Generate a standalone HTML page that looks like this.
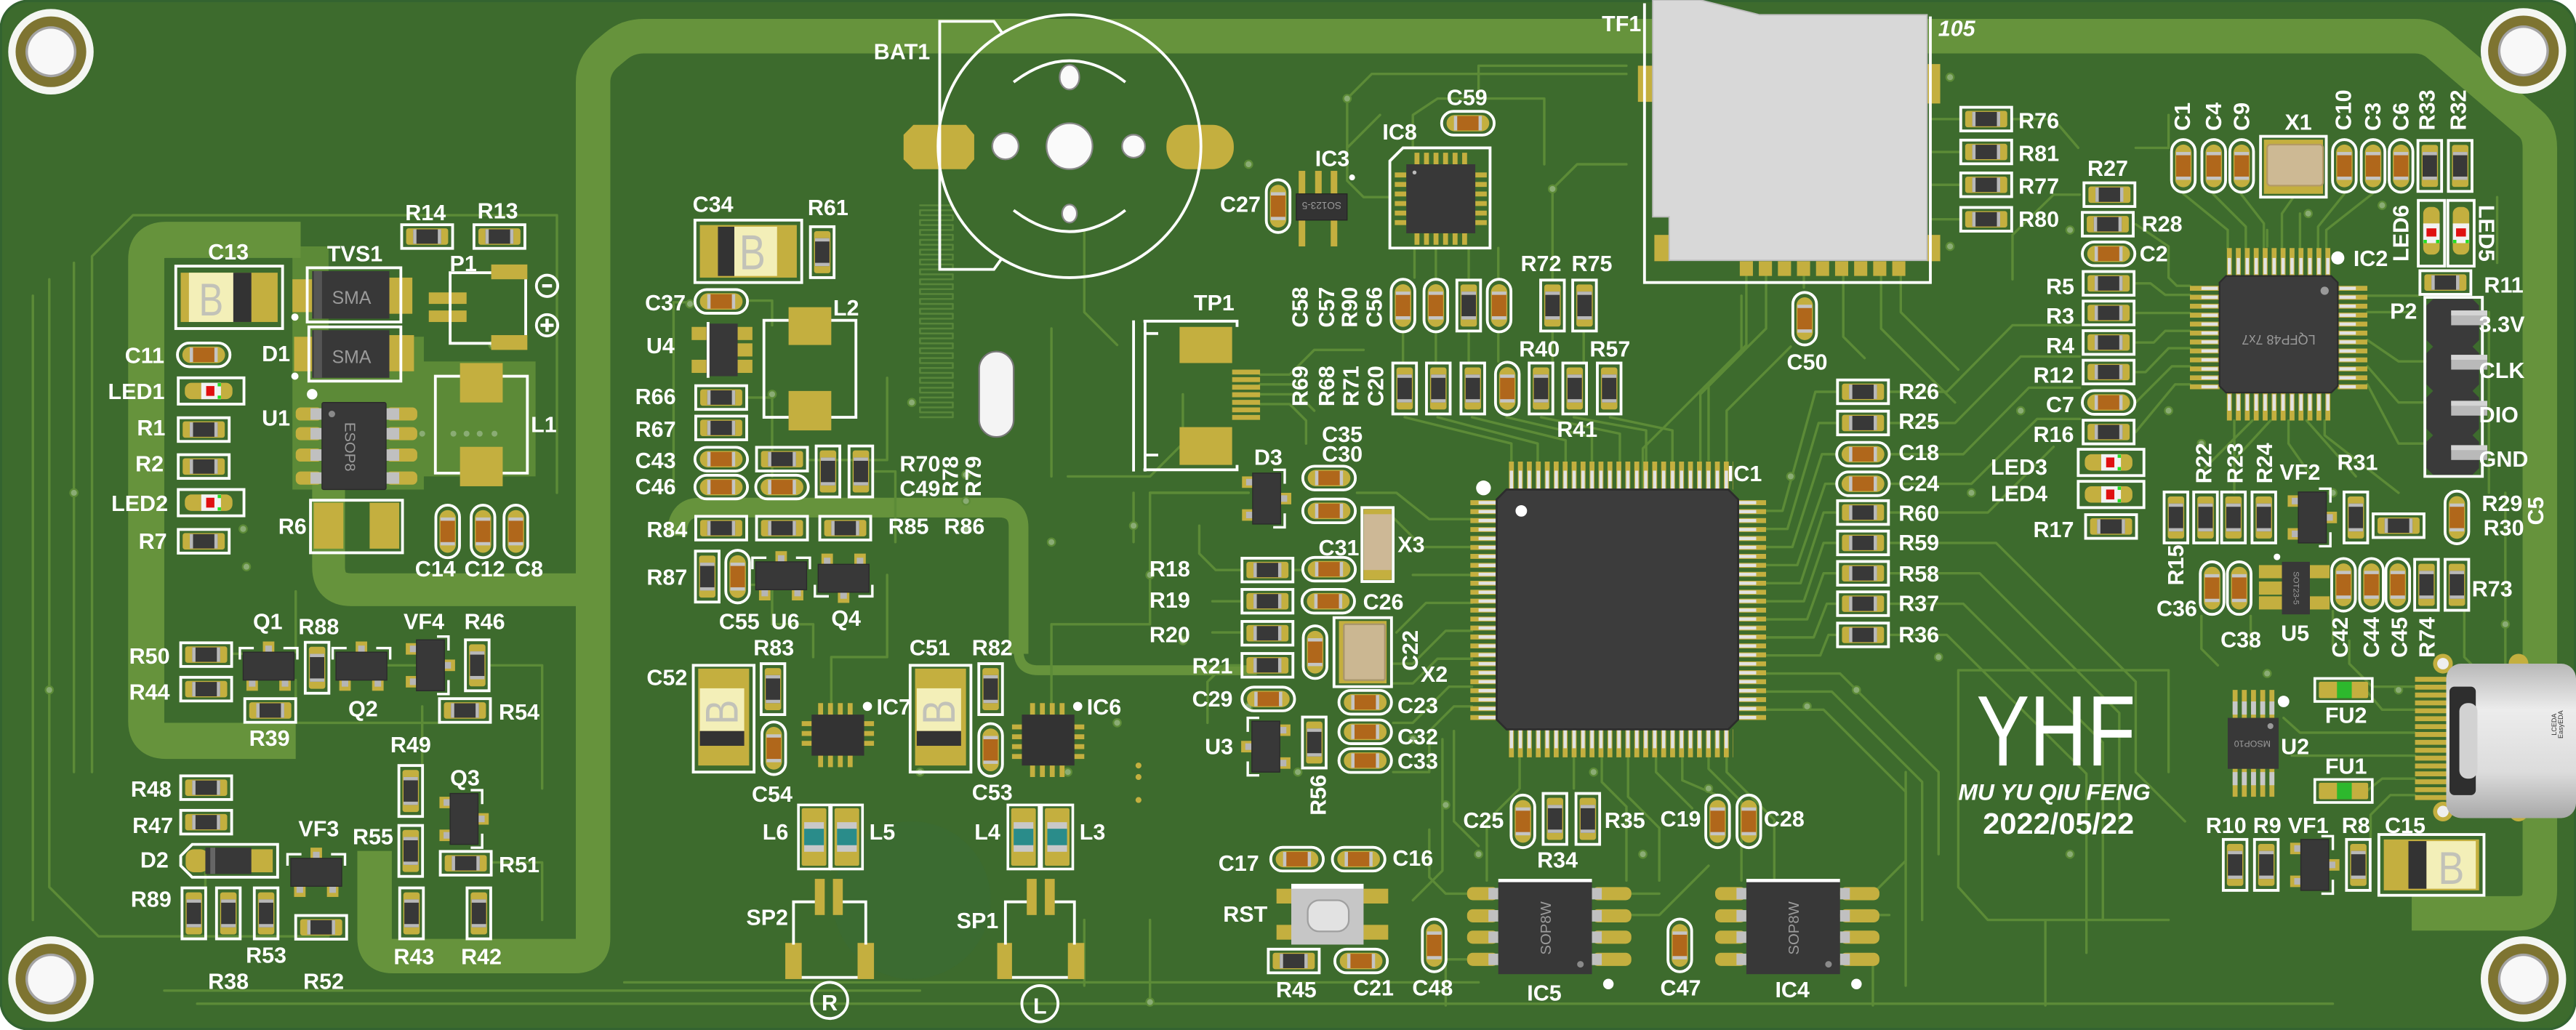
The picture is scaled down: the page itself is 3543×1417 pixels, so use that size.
<!DOCTYPE html>
<html><head><meta charset="utf-8">
<style>
html,body{margin:0;padding:0;background:#fff;}
svg{display:block;}
.t{font-family:"Liberation Sans",Arial,sans-serif;font-weight:bold;font-size:13.5px;fill:#fff;text-anchor:middle;}
.s{font-family:"Liberation Sans",Arial,sans-serif;fill:#9a9a9a;text-anchor:middle;}
.tr{fill:none;stroke:#5c8b37;stroke-width:1.5;stroke-linejoin:round;stroke-linecap:round;}
.bd{fill:none;stroke:#66933c;stroke-linejoin:round;}
.vi{fill:#8aac74;stroke:#5c8b37;stroke-width:1;}
.sk{fill:none;stroke:#fff;stroke-width:1.7;}
.g{fill:#c4af3f;}
.dk{fill:#3a3a3a;}
</style></head>
<body>
<svg width="3543" height="1417" viewBox="0 0 1568 627" preserveAspectRatio="none" xmlns="http://www.w3.org/2000/svg">
<defs>
<linearGradient id="usb" x1="0" y1="0" x2="0" y2="1">
<stop offset="0" stop-color="#b8b8b8"/><stop offset="0.3" stop-color="#ececec"/><stop offset="0.7" stop-color="#dcdcdc"/><stop offset="1" stop-color="#a8a8a8"/>
</linearGradient>
<g id="rh">
<rect x="-15.5" y="-7.2" width="31" height="14.4" fill="none" stroke="#fff" stroke-width="1.7"/>
<rect x="-12.8" y="-5" width="25.6" height="10" rx="1.5" fill="#c4af3f"/>
<rect x="-8.5" y="-4.4" width="17" height="8.8" fill="#383838"/>
<rect x="-8.5" y="-4.4" width="2" height="8.8" fill="#b8b8b8"/>
<rect x="6.5" y="-4.4" width="2" height="8.8" fill="#b8b8b8"/>
</g>
<g id="ch">
<rect x="-16" y="-7.2" width="32" height="14.4" rx="7.2" fill="none" stroke="#fff" stroke-width="1.7"/>
<rect x="-13" y="-5" width="26" height="10" rx="5" fill="#c4af3f"/>
<rect x="-7.5" y="-4.4" width="15" height="8.8" fill="#b0671b"/>
<rect x="-8.5" y="-4.4" width="2" height="8.8" fill="#c4c4c4"/>
<rect x="6.5" y="-4.4" width="2" height="8.8" fill="#c4c4c4"/>
</g>
<g id="led">
<rect x="-20" y="-8" width="40" height="16" fill="none" stroke="#fff" stroke-width="1.7"/>
<rect x="-16" y="-5" width="29" height="10" rx="4" fill="#c4af3f"/>
<rect x="-6" y="-5" width="12" height="10" fill="#f2f2f2"/>
<rect x="-3" y="-3" width="5" height="6" fill="#e01010"/>
<rect x="4" y="-4.8" width="2" height="2" fill="#22e022"/>
<rect x="4" y="2.8" width="2" height="2" fill="#22e022"/>
</g>
<g id="sot">
<rect x="-3.5" y="-15" width="7" height="8" fill="#c4af3f"/>
<rect x="-2" y="-12.5" width="4" height="5" fill="#b5b5b5"/>
<rect x="-13.5" y="7" width="7" height="8" fill="#c4af3f"/>
<rect x="6.5" y="7" width="7" height="8" fill="#c4af3f"/>
<rect x="-12" y="7.5" width="4" height="5" fill="#b5b5b5"/>
<rect x="8" y="7.5" width="4" height="5" fill="#b5b5b5"/>
<rect x="-15.5" y="-8.5" width="31" height="17" fill="#383838" stroke="#2a2a2a" stroke-width=".6"/>
<path d="M-17.5,-4 V-11 H-9 M9,-11 H17.5 V-4" stroke="#fff" stroke-width="1.5" fill="none"/>
</g>
<g id="lind">
<rect x="-9.5" y="-19.5" width="19" height="39" fill="none" stroke="#fff" stroke-width="1.6"/>
<rect x="-7.5" y="-17.5" width="15" height="35" rx="1" fill="#c4af3f"/>
<rect x="-6" y="-9" width="12" height="18" fill="#c8c8c8"/>
<rect x="-6" y="-5" width="12" height="10" fill="#2a8c8a"/>
</g>
<g id="fu">
<rect x="-17.5" y="-7" width="35" height="14" fill="none" stroke="#fff" stroke-width="1.6"/>
<rect x="-15" y="-5" width="30" height="10" rx="1" fill="#c4af3f"/>
<rect x="-4" y="-5" width="9" height="10" fill="#2db82d"/>
</g>
<g id="hole">
<circle r="26" fill="#f4f6f2"/>
<circle r="21.5" fill="#7e7431"/>
<circle r="15.5" fill="#a4a4a4"/>
<circle r="14" fill="#f8f8f8"/>
</g>
</defs>

<!-- board -->
<rect x="0.5" y="0.5" width="1567" height="626" rx="17" fill="#3d6b2d" stroke="#336330" stroke-width="1.5"/>
<circle cx="555" cy="548" r="48" fill="#3b6b31"/>

<!-- light pours / bands -->
<path d="M178,150 H200 V205 H258 V220 H326 V290 H258 V298 H178 Z" fill="#5c8a37"/>
<path class="bd" stroke-width="22" d="M183,146 H101 Q89,146 89,158 V439 Q89,451 101,451 H180"/>
<path class="bd" stroke-width="20" d="M200,292 V345 Q200,359 214,359 H352"/>
<path class="bd" stroke-width="21" d="M228,518 V571 Q228,582 239,582 H350 Q361,582 361,571 V50 Q361,40 369,33 L375,28 Q382,22 392,22 H1470 Q1478,22 1484,27 L1540,75 Q1546,80 1546,90 V542 Q1546,556 1532,556 H1468"/>
<path class="bd" stroke-width="12" d="M412,326 Q412,309 426,309 H608 Q620,309 620,321 V398"/>
<path class="bd" stroke-width="6" d="M620,396 Q620,408 632,408 H765"/>
<path class="tr" d="M56,470 V156 L81,131 H339 V300"/>
<path class="tr" d="M100,603 H560 M120,611 H1420 M20,180 V560"/>

<!-- meander -->
<path class="tr" style="stroke-width:1.1;stroke:#58863a" d="M560,125 h20 v3 h-20 v3 h20 v3 h-20 v3 h20 v3 h-20 v3 h20 v3 h-20 v3 h20 v3 h-20 v3 h20 v3 h-20 v3 h20 v3 h-20 v3 h20 v3 h-20 v3 h20 v3 h-20 v3 h20 v3 h-20 v3 h20 v3 h-20 v3 h20 v3 h-20 v3 h20 v3 h-20 v3 h20 v3 h-20 v3 h20 v3 h-20 v3 h20 v3 h-20 v3 h20 v3 h-20 v3 h20 v3 h-20 v3 h20 v3 h-20 v3 h20 v3 h-20 v3 h20 v3 h-20 v3 h20 v3 h-20"/>

<!-- traces -->
<g class="tr">
<path d="M180,414 V440 H268 M236,405 H253 M298,405 H330 V480 M299,525 H330 V560 M257,465 V430 M125,545 V520 M180,360 V397 M142,398 H148"/>
<path d="M455,183 H470 V198 M455,242 H470 V290 M492,280 H540 V230 M531,287 H545 V330 M420,184 H410 V300 M456,356 H470 V380 H495 V400 M506,428 V400 H540 V350 M640,428 V380 H700 V300 H760"/>
<path d="M767,228 H785 L800,213 H830 M767,234 H792 M767,240 H790 L800,250 M767,246 H785 L795,256 V270"/>
<path d="M756,347 H740 L730,337 V320 M756,366 H738 M756,385 H738 M756,405 H745 L735,415 V440 M787,347 H793"/>
<path d="M920,281 V270 L855,254 M936,281 V270 L875,254 M953,281 V268 L896,254 M969,281 V266 L917,254 M986,281 V264 L938,254 M1002,281 V262 L958,254 M1018,281 V262 L980,254 M1035,281 V240 L1060,215 V180 M1051,281 V250 L1090,211"/>
<path d="M1075,311 H1085 L1105,238.5 H1118 M1075,322 H1088 L1107,257.5 H1118 M1075,333 H1091 L1109,276.5 H1118 M1075,344 H1094 L1111,294.5 H1118 M1075,355 H1096 L1110,312 H1118 M1075,366 H1098 L1110,330.5 H1118 M1075,377 H1100 L1110,349 H1118 M1075,388 H1104 L1112,367.5 H1118 M1075,399 H1108 L1113,386.5 H1118"/>
<path d="M1075,410 H1120 L1180,470 V520 M1075,421 H1115 L1170,476 V560 M1075,432 H1110 L1160,482 V600"/>
<path d="M1150,238.5 H1185 L1225,198 H1266 M1150,257.5 H1190 L1230,217 H1266 M1150,276.5 H1195 L1235,236 H1266 M1150,294.5 H1200 L1240,255 H1266 M1150,312 H1210 L1250,272 M1150,330.5 H1215 L1300,415 V470 L1330,500 M1150,349 H1205 L1290,434 V500 M1150,367.5 H1195 L1280,452 V560 M1150,386.5 H1185 L1270,471 V580"/>
<path d="M896,316 H870 L850,300 H826 M896,333 H866 L848,315 M896,350 H860 M896,367 H868 L850,385 M896,384 H880 L860,404 H848 M896,401 H875 L860,416 H848 M896,418 H882 L860,440 H848 M896,430 H885 L870,445 V470 H848 M885,445 V500 L900,515 M878,450 V530 L860,548"/>
<path d="M925,461 V480 L905,500 V536 M958,461 V480 M975,461 V476 L990,491 V536 M991,461 V485 L1010,504 V536 M1008,461 V470 L1030,492 M1024,461 V475 L1045,484 M1040,461 V468 L1060,488 V536 M1051,461 V470 L1080,499 V536"/>
<path d="M993,544 H1010 M993,557 H1010 L1040,527 M894,544 H880 L870,534 V505 M894,584 H880 V612 M1120,544 H1140 L1160,524 V470 M1120,557 H1150 M1120,584 H1140 V612"/>
<path d="M1333,179.5 H1318 L1309,172.5 H1300 M1333,190.5 H1300 M1333,201.4 H1318 L1311,208.5 H1300 M1333,212 H1320 L1306,226.5 H1300 M1333,223 H1322 L1300,245 M1333,234 H1324 L1300,263 M1333,174 H1325 L1320,169 V150 L1300,136.5"/>
<path d="M1356,151 V140 L1329,118 M1367,151 V138 L1347,118 M1378,151 V136 L1364,118 M1389,151 V130 L1396,120 M1400,151 V130 M1411,151 V138 L1427,118 M1416,151 V140 L1444,118"/>
<path d="M1441,180 H1473 M1441,190 H1470 M1441,207 L1460,220 H1477 M1441,223 L1460,245 H1477 M1441,234 L1460,270 H1477"/>
<path d="M1360,256 V300 M1371,256 L1342,285 M1382,256 L1360,280 M1393,256 V270 L1407,290 M1404,256 L1434,290 M1415,256 V265 L1460,300"/>
<path d="M1470,418 H1444 L1430,404 V390 M1470,432 H1450 L1440,420 M1470,446 H1400 L1390,437 M1470,460 H1395 M1470,474 H1450 L1440,482 M1470,484 H1455 L1443,496 V510"/>
<path d="M1063,168 V210 L1000,273 V300 M1075,168 V200 L1040,235 V280 M1098,168 V175 M1122,168 V205 L1135,218 M1145,168 V200 L1190,245 M1157,168 V190 L1192,225"/>
<path d="M1175,72.5 H1193 M1175,92.5 H1193 M1175,112.5 H1193 M1175,133.5 H1193 M1225,72.5 H1250 L1265,90 M1266,118.5 H1250 L1225,143 V170"/>
<path d="M860,90 V70 L875,60 H940 V100 M846,120 H830 L820,110 V90 L840,70 M861,151 V169 M874,151 V169 M894,151 V169 M912,151 V169 M854,203 V220 M874,203 V220 M894,203 V220 M912,203 V220 M945,202 V220 M964,202 V220"/>
<path d="M1192,408 H1320 V470 M1192,408 V540 L1210,560 H1320 M1245,560 V612"/>
<path d="M1340,375 V395 L1350,405 M1370,375 V395 M1420,372 V395 M1500,372 V400 L1520,420"/>
<path d="M30,170 V540 L60,570 H200 M45,160 V470 M380,598 H900 M700,560 V612 M660,560 V600"/>
<path d="M820,90 V60 L835,45 H990 M900,60 V40 H990 M990,100 H960 L945,115 V170 M700,300 H760 M690,330 V300 M650,290 H700 L720,270 V240 M640,200 V290 M660,140 V190 L680,210"/>
<path d="M1515,190 V300 M1525,300 V480 M1520,120 V160 M1300,90 H1320 V70 M1380,140 V150"/>
</g>

<!-- vias -->
<g class="vi">
<circle cx="257" cy="264" r="2.3"/><circle cx="276" cy="264" r="2.3"/><circle cx="284" cy="264" r="2.3"/><circle cx="292" cy="264" r="2.3"/><circle cx="301" cy="264" r="2.3"/>
<circle cx="148" cy="322" r="2.3"/><circle cx="150" cy="345" r="2.3"/><circle cx="300" cy="210" r="2.3"/><circle cx="420" cy="185" r="2.3"/><circle cx="470" cy="240" r="2.3"/>
<circle cx="555" cy="245" r="2.3"/><circle cx="588" cy="289" r="2.3"/><circle cx="588" cy="305" r="2.3"/><circle cx="588" cy="322" r="2.3"/><circle cx="640" cy="330" r="2.3"/>
<circle cx="700" cy="350" r="2.3"/><circle cx="720" cy="390" r="2.3"/><circle cx="760" cy="430" r="2.3"/><circle cx="790" cy="470" r="2.3"/><circle cx="860" cy="450" r="2.3"/>
<circle cx="880" cy="490" r="2.3"/><circle cx="900" cy="520" r="2.3"/><circle cx="970" cy="470" r="2.3"/><circle cx="1000" cy="520" r="2.3"/><circle cx="1040" cy="480" r="2.3"/>
<circle cx="1100" cy="430" r="2.3"/><circle cx="1130" cy="420" r="2.3"/><circle cx="1180" cy="400" r="2.3"/><circle cx="1200" cy="300" r="2.3"/><circle cx="1230" cy="250" r="2.3"/>
<circle cx="1260" cy="140" r="2.3"/><circle cx="1320" cy="250" r="2.3"/><circle cx="1340" cy="270" r="2.3"/><circle cx="1405" cy="130" r="2.3"/><circle cx="1450" cy="125" r="2.3"/>
<circle cx="1420" cy="300" r="2.3"/><circle cx="1460" cy="420" r="2.3"/><circle cx="1380" cy="410" r="2.3"/><circle cx="1260" cy="520" r="2.3"/><circle cx="700" cy="610" r="2.3"/>
<circle cx="650" cy="470" r="2.3"/><circle cx="560" cy="470" r="2.3"/><circle cx="680" cy="440" r="2.3"/><circle cx="690" cy="320" r="2.3"/><circle cx="760" cy="100" r="2.3"/>
<circle cx="1187" cy="47" r="2.3"/><circle cx="1187" cy="150" r="2.3"/><circle cx="1090" cy="290" r="2.3"/><circle cx="1495" cy="440" r="2.3"/><circle cx="1030" cy="420" r="2.3"/>
<circle cx="45" cy="300" r="2.3"/><circle cx="30" cy="420" r="2.3"/><circle cx="820" cy="60" r="2.3"/><circle cx="945" cy="115" r="2.3"/><circle cx="1525" cy="380" r="2.3"/>
</g>

<!-- mounting holes -->
<use href="#hole" x="31" y="31.5"/>
<use href="#hole" x="1536" y="31"/>
<use href="#hole" x="31" y="596"/>
<use href="#hole" x="1536" y="596"/>

<!-- ===== LEFT POWER SECTION ===== -->
<rect x="107" y="162" width="65" height="38" class="sk" stroke-width="2"/>
<rect x="110" y="166" width="59" height="30" class="g"/>
<rect x="115" y="166" width="28" height="30" fill="#f3efb8"/>
<rect x="142" y="166" width="11" height="30" fill="#333"/>
<text x="121" y="192" font-family="Liberation Sans,Arial,sans-serif" font-size="28" fill="#c2c2b8" textLength="15" lengthAdjust="spacingAndGlyphs">B</text>
<rect x="178" y="170" width="12" height="20" class="g"/><rect x="236" y="169" width="15" height="22" class="g"/>
<rect x="190" y="165" width="47" height="29" fill="#383838"/><rect x="191" y="165" width="5" height="29" fill="#555"/>
<rect x="187" y="163" width="57" height="33" class="sk"/>
<text class="s" x="214" y="185" font-size="11">SMA</text>
<rect x="179" y="205" width="12" height="21" class="g"/><rect x="236" y="204" width="16" height="22" class="g"/>
<rect x="190" y="201" width="47" height="29" fill="#383838"/><rect x="191" y="201" width="5" height="29" fill="#555"/>
<rect x="188" y="199" width="56" height="33" class="sk"/>
<text class="s" x="214" y="221" font-size="11">SMA</text>
<circle cx="179.5" cy="193" r="2.2" fill="#fff"/><circle cx="179.5" cy="229" r="2.2" fill="#fff"/><circle cx="190" cy="240" r="3.2" fill="#fff"/>
<rect x="299" y="161" width="22" height="9" class="g"/><rect x="299" y="204" width="22" height="9" class="g"/>
<rect x="261" y="178" width="23" height="7" class="g"/><rect x="261" y="189" width="23" height="7" class="g"/>
<path class="sk" d="M299,166 H274 V209 H299 M320,170 V204"/>
<circle cx="333" cy="174" r="6.5" class="sk" stroke-width="2"/><path d="M330,174 H336" stroke="#fff" stroke-width="2"/>
<circle cx="333" cy="198" r="6.5" class="sk" stroke-width="2"/><path d="M329,198 H337 M333,194 V202" stroke="#fff" stroke-width="2"/>
<g class="g"><rect x="180" y="248" width="16" height="8" rx="3"/><rect x="180" y="260" width="16" height="8" rx="3"/><rect x="180" y="273" width="16" height="8" rx="3"/><rect x="180" y="287" width="16" height="8" rx="3"/>
<rect x="235" y="248" width="19" height="8" rx="3"/><rect x="235" y="260" width="19" height="8" rx="3"/><rect x="235" y="273" width="19" height="8" rx="3"/><rect x="235" y="287" width="19" height="8" rx="3"/></g>
<g fill="#c0c0c0"><rect x="189" y="248.5" width="7" height="7"/><rect x="189" y="260.5" width="7" height="7"/><rect x="189" y="273.5" width="7" height="7"/><rect x="189" y="287.5" width="7" height="7"/>
<rect x="235" y="248.5" width="8" height="7"/><rect x="235" y="260.5" width="8" height="7"/><rect x="235" y="273.5" width="8" height="7"/><rect x="235" y="287.5" width="8" height="7"/></g>
<rect x="196" y="245" width="39" height="53" rx="1" fill="#383838" stroke="#2a2a2a" stroke-width=".6"/>
<circle cx="202" cy="252" r="2" fill="#8a8a8a"/>
<text class="s" font-size="9" transform="translate(213,272) rotate(90)" y="3">ESOP8</text>
<rect x="280" y="221" width="26" height="24" class="g"/><rect x="280" y="272" width="26" height="24" class="g"/>
<path class="sk" d="M280,229 H265 V288 H280 M306,229 H321 V288 H306"/>
<rect x="191" y="306" width="18" height="28" class="g"/><rect x="225" y="306" width="18" height="28" class="g"/>
<rect x="189" y="304.5" width="56" height="32" class="sk" stroke-width="1.3"/>
<use href="#rh" x="260" y="144"/><use href="#rh" x="304" y="144"/>
<use href="#ch" x="124" y="216"/>
<use href="#led" x="128.5" y="238"/>
<use href="#rh" x="124" y="261.5"/><use href="#rh" x="124" y="284"/>
<use href="#led" x="128.5" y="306"/>
<use href="#rh" x="124" y="329.5"/>
<use href="#ch" transform="translate(272.5,323.5) rotate(90)"/><use href="#ch" transform="translate(294,323.5) rotate(90)"/><use href="#ch" transform="translate(314,323.5) rotate(90)"/>

<use href="#rh" x="125.5" y="398.5"/><use href="#rh" x="125.5" y="419.5"/>
<use href="#sot" x="163.5" y="405.5"/><use href="#sot" x="220" y="405.5"/>
<use href="#rh" transform="translate(193,406.5) rotate(90)"/>
<use href="#sot" transform="translate(262,405) rotate(90)"/>
<use href="#rh" transform="translate(290.5,405) rotate(90)"/>
<use href="#rh" x="164.5" y="432.5"/><use href="#rh" x="283" y="432.5"/>
<use href="#rh" transform="translate(250,481.5) rotate(90)"/>
<use href="#sot" transform="translate(282.5,498.5) rotate(90)"/>
<use href="#rh" x="125.5" y="479.5"/><use href="#rh" x="125.5" y="500.5"/>
<use href="#rh" transform="translate(250,518) rotate(90)"/>
<use href="#rh" x="283.5" y="525.5"/>
<use href="#sot" x="192.5" y="531"/>
<rect x="113" y="517" width="14" height="14" rx="5" class="g"/><rect x="151" y="517" width="15" height="14" class="g"/>
<rect x="125" y="516" width="28" height="16" fill="#383838"/><rect x="128" y="516" width="3" height="16" fill="#666"/>
<path class="sk" d="M117,514 H169 V534 H117 L110,527 V521 Z"/>
<use href="#rh" transform="translate(118,556) rotate(90)"/><use href="#rh" transform="translate(139,556) rotate(90)"/><use href="#rh" transform="translate(162,556) rotate(90)"/>
<use href="#rh" x="195.5" y="564.5"/>
<use href="#rh" transform="translate(250.5,556) rotate(90)"/><use href="#rh" transform="translate(291.5,556) rotate(90)"/>

<!-- ===== C34 / L2 / U4 area ===== -->
<rect x="423" y="134" width="65" height="38" class="sk" stroke-width="2"/>
<rect x="426" y="137" width="59" height="32" class="g"/>
<rect x="437" y="138" width="10" height="30" fill="#333"/>
<rect x="447" y="138" width="26" height="30" fill="#f3efb8"/>
<text x="450" y="164" font-family="Liberation Sans,Arial,sans-serif" font-size="30" fill="#c2c2b8" textLength="16" lengthAdjust="spacingAndGlyphs">B</text>
<use href="#rh" transform="translate(500.5,153.5) rotate(90)"/>
<use href="#ch" x="439" y="183.5"/>
<g class="g"><rect x="421" y="199" width="10" height="8"/><rect x="421" y="219" width="10" height="8"/><rect x="448" y="199" width="10" height="8"/><rect x="448" y="209" width="10" height="8"/><rect x="448" y="219" width="10" height="8"/></g>
<rect x="430" y="197" width="19" height="32" fill="#383838"/>
<path class="sk" d="M431,196 V230" stroke-width="1"/>
<rect x="480" y="187" width="26" height="23" class="g"/><rect x="480" y="238" width="26" height="24" class="g"/>
<path class="sk" d="M480,195 H465 V254 H480 M506,195 H521 V254 H506"/>
<use href="#rh" x="439" y="242"/><use href="#rh" x="439" y="260.5"/>
<use href="#ch" x="439" y="279.5"/><use href="#rh" x="476" y="279.5"/>
<use href="#ch" x="439" y="296.5"/><use href="#ch" x="476" y="296.5"/>
<use href="#rh" transform="translate(504,287) rotate(90)"/><use href="#rh" transform="translate(524,287) rotate(90)"/>
<use href="#rh" x="439" y="321.5"/><use href="#rh" x="476" y="321.5"/><use href="#rh" x="514.5" y="321.5"/>
<use href="#rh" transform="translate(430.5,351) rotate(90)"/>
<use href="#ch" transform="translate(449,351) rotate(90)"/>
<use href="#sot" x="475.5" y="350.5"/>
<use href="#sot" transform="translate(513.5,352) rotate(180)"/>

<!-- C52 / IC7 / L6 L5 / SP2 -->
<rect x="422" y="405" width="37" height="65" class="sk" stroke-width="2"/>
<rect x="425" y="407" width="31" height="59" class="g"/>
<rect x="426" y="419" width="27" height="26" fill="#f3efb8"/>
<rect x="426" y="445" width="27" height="9" fill="#333"/>
<text x="0" y="0" font-family="Liberation Sans,Arial,sans-serif" font-size="28" fill="#c2c2b8" textLength="15" lengthAdjust="spacingAndGlyphs" transform="translate(449,441) rotate(-90)">B</text>
<use href="#rh" transform="translate(470.5,419.5) rotate(90)"/>
<use href="#ch" transform="translate(471,455.5) rotate(90)"/>
<g class="g"><rect x="498" y="428" width="3" height="8"/><rect x="504" y="428" width="3" height="8"/><rect x="510" y="428" width="3" height="8"/><rect x="516" y="428" width="3" height="8"/>
<rect x="498" y="459" width="3" height="8"/><rect x="504" y="459" width="3" height="8"/><rect x="510" y="459" width="3" height="8"/><rect x="516" y="459" width="3" height="8"/>
<rect x="488" y="439" width="7" height="3"/><rect x="488" y="445" width="7" height="3"/><rect x="488" y="451" width="7" height="3"/>
<rect x="525" y="439" width="7" height="3"/><rect x="525" y="445" width="7" height="3"/><rect x="525" y="451" width="7" height="3"/></g>
<rect x="494" y="435" width="32" height="25" fill="#333"/>
<circle cx="528" cy="430" r="2.8" fill="#fff"/>
<use href="#lind" x="495.5" y="509.5"/><use href="#lind" x="515.5" y="509.5"/>
<rect x="496" y="535" width="6" height="22" class="g"/><rect x="507" y="535" width="6" height="22" class="g"/>
<rect x="478" y="574" width="10" height="22" class="g"/><rect x="522" y="574" width="10" height="22" class="g"/>
<path class="sk" d="M483,575 V549 H496 M513,549 H527 V575 M488,595 H522"/>
<circle cx="505" cy="609" r="11" class="sk" stroke-width="2"/>
<text class="t" x="505" y="615" font-size="15">R</text>

<!-- C51 / IC6 / L4 L3 / SP1 -->
<rect x="554" y="405" width="37" height="65" class="sk" stroke-width="2"/>
<rect x="557" y="407" width="31" height="59" class="g"/>
<rect x="558" y="419" width="27" height="26" fill="#f3efb8"/>
<rect x="558" y="445" width="27" height="9" fill="#333"/>
<text x="0" y="0" font-family="Liberation Sans,Arial,sans-serif" font-size="28" fill="#c2c2b8" textLength="15" lengthAdjust="spacingAndGlyphs" transform="translate(581,441) rotate(-90)">B</text>
<use href="#rh" transform="translate(603,419.5) rotate(90)"/>
<use href="#ch" transform="translate(603,456.5) rotate(90)"/>
<g class="g"><rect x="627" y="428" width="3" height="8"/><rect x="633" y="428" width="3" height="8"/><rect x="639" y="428" width="3" height="8"/><rect x="645" y="428" width="3" height="8"/>
<rect x="627" y="465" width="3" height="8"/><rect x="633" y="465" width="3" height="8"/><rect x="639" y="465" width="3" height="8"/><rect x="645" y="465" width="3" height="8"/>
<rect x="616" y="441" width="7" height="3"/><rect x="616" y="447" width="7" height="3"/><rect x="616" y="453" width="7" height="3"/><rect x="616" y="459" width="7" height="3"/>
<rect x="653" y="441" width="7" height="3"/><rect x="653" y="447" width="7" height="3"/><rect x="653" y="453" width="7" height="3"/><rect x="653" y="459" width="7" height="3"/></g>
<rect x="622" y="435" width="32" height="31" fill="#333"/>
<circle cx="656" cy="430" r="2.8" fill="#fff"/>
<circle cx="693" cy="466" r="1.8" fill="#c4af3f"/><circle cx="693" cy="473" r="1.8" fill="#c4af3f"/><circle cx="693" cy="487" r="1.8" fill="#c4af3f"/>
<use href="#lind" x="623" y="509.5"/><use href="#lind" x="643.5" y="509.5"/>
<rect x="625" y="535" width="6" height="22" class="g"/><rect x="636" y="535" width="6" height="22" class="g"/>
<rect x="607" y="574" width="9" height="22" class="g"/><rect x="650" y="574" width="10" height="22" class="g"/>
<path class="sk" d="M612,575 V549 H625 M642,549 H654 V575 M616,595 H650"/>
<circle cx="633" cy="611" r="11" class="sk" stroke-width="2"/>
<text class="t" x="633" y="617" font-size="15">L</text>

<!-- ===== BAT1 ===== -->
<polygon points="556,76 588,76 593,82 593,97 588,103 556,103 550,97 550,82" class="g"/>
<rect x="710" y="76" width="41" height="27" rx="13" class="g"/>
<path class="sk" stroke-width="2" d="M610,20 L605,13 H572 V164 H605 L610,157"/>
<circle cx="651" cy="89" r="80" class="sk" stroke-width="2"/>
<path class="sk" stroke-width="2" d="M617,50 Q651,24 685,50 M617,128 Q651,154 685,128"/>
<ellipse cx="651" cy="89" rx="14" ry="14" fill="#fafafa" stroke="#888" stroke-width="1"/>
<circle cx="612" cy="89" r="8" fill="#fafafa" stroke="#888" stroke-width="1"/>
<circle cx="690" cy="89" r="7" fill="#fafafa" stroke="#888" stroke-width="1"/>
<ellipse cx="651" cy="47" rx="6" ry="7.5" fill="#fafafa" stroke="#888" stroke-width="1"/>
<ellipse cx="651" cy="130" rx="4.5" ry="5.5" fill="#fafafa" stroke="#888" stroke-width="1"/>
<rect x="596" y="214" width="21" height="52" rx="10.5" fill="#f4f4f4" stroke="#777" stroke-width="1"/>

<!-- TP1 -->
<rect x="718" y="199" width="32" height="22" class="g"/><rect x="718" y="260" width="32" height="23" class="g"/>
<line x1="758.5" y1="225" x2="758.5" y2="256" stroke="#c4af3f" stroke-width="17" stroke-dasharray="3 1.6"/>
<path class="sk" d="M696,195.5 H753 V199 M696,286 H753 V283 M690,195 V287 M697,195 V287 M697,203 H705 M697,277 H705"/>

<!-- IC3, C27, C59, IC8 -->
<use href="#ch" transform="translate(778,125.5) rotate(90)"/>
<g class="g"><rect x="790.5" y="104" width="4" height="15"/><rect x="800.5" y="104" width="4" height="15"/><rect x="810" y="104" width="4" height="15"/><rect x="790.5" y="133" width="4" height="17"/><rect x="810" y="133" width="4" height="17"/></g>
<rect x="789" y="118" width="31" height="16" fill="#333" stroke="#222" stroke-width=".5"/>
<text class="s" x="804.5" y="129" font-size="6" transform="rotate(180,804.5,126)">SO123-5</text>
<circle cx="823" cy="108" r="1.8" fill="#fff"/>
<use href="#ch" x="893.5" y="75"/>
<path class="sk" d="M854,90 H907 V151 H846 V98 Z"/>
<line x1="861" y1="96.5" x2="895" y2="96.5" stroke="#c4af3f" stroke-width="7" stroke-dasharray="3 2.8"/>
<line x1="861" y1="145.5" x2="895" y2="145.5" stroke="#c4af3f" stroke-width="7" stroke-dasharray="3 2.8"/>
<line x1="852.5" y1="105" x2="852.5" y2="139" stroke="#c4af3f" stroke-width="7" stroke-dasharray="3 2.8"/>
<line x1="901.5" y1="105" x2="901.5" y2="139" stroke="#c4af3f" stroke-width="7" stroke-dasharray="3 2.8"/>
<rect x="856" y="100" width="42" height="42" fill="#383838"/>
<circle cx="861" cy="105" r="1.2" fill="#bbb"/>

<!-- cap/res rows -->
<use href="#ch" transform="translate(854,186) rotate(90)"/><use href="#ch" transform="translate(874,186) rotate(90)"/>
<use href="#rh" transform="translate(894,186) rotate(90)"/><use href="#ch" transform="translate(912.5,186) rotate(90)"/>
<use href="#rh" transform="translate(945,186) rotate(90)"/><use href="#rh" transform="translate(964.5,186) rotate(90)"/>
<use href="#rh" transform="translate(855,236.5) rotate(90)"/><use href="#rh" transform="translate(875.5,236.5) rotate(90)"/><use href="#rh" transform="translate(896.5,236.5) rotate(90)"/>
<use href="#ch" transform="translate(917.5,236.5) rotate(90)"/>
<use href="#rh" transform="translate(938,236.5) rotate(90)"/><use href="#rh" transform="translate(958.5,236.5) rotate(90)"/><use href="#rh" transform="translate(979.5,236.5) rotate(90)"/>

<!-- D3, C35/C30, X3, R18.. -->
<use href="#sot" transform="translate(771,303.5) rotate(90)"/>
<use href="#ch" x="809" y="291"/><use href="#ch" x="809" y="311"/>
<rect x="830" y="310" width="17" height="43" class="g"/><rect x="830" y="313" width="17" height="34" fill="#cdb896"/>
<rect x="829" y="309" width="19" height="45" class="sk" stroke-width="1.2"/>
<use href="#rh" x="771.5" y="347"/><use href="#ch" x="809" y="346.5"/>
<use href="#rh" x="771.5" y="366"/><use href="#ch" x="808.5" y="366"/>
<use href="#rh" x="771.5" y="385.5"/>
<use href="#ch" transform="translate(800.5,397) rotate(90)"/>
<rect x="812" y="376" width="35" height="42" class="sk"/>
<rect x="815" y="378" width="29" height="38" class="g"/>
<rect x="818" y="380" width="25" height="34" rx="1" fill="#cbb792" stroke="#a8956c" stroke-width="1"/>
<use href="#rh" x="771.5" y="405"/>
<use href="#ch" x="772" y="425.5"/>
<use href="#ch" x="831" y="427.5"/><use href="#ch" x="831" y="445.5"/><use href="#ch" x="831" y="463"/>
<use href="#sot" transform="translate(770.5,454.5) rotate(-90)"/>
<use href="#rh" transform="translate(800,452) rotate(90)"/>

<!-- RST -->
<rect x="777" y="541" width="14" height="9" class="g"/><rect x="777" y="563" width="14" height="9" class="g"/>
<rect x="830" y="541" width="15" height="9" class="g"/><rect x="830" y="563" width="15" height="9" class="g"/>
<rect x="786" y="539" width="44" height="36" fill="#c6c6c6"/>
<rect x="786" y="538" width="44" height="3" fill="#fff"/>
<rect x="796" y="548" width="25" height="19" rx="7" fill="#e2e2e2" stroke="#a0a0a0" stroke-width="1"/>
<use href="#ch" x="789.5" y="523"/><use href="#ch" x="827" y="523"/>
<use href="#rh" x="787.5" y="585"/><use href="#ch" x="828.5" y="585"/>
<use href="#ch" transform="translate(873,575.5) rotate(90)"/>
<use href="#ch" transform="translate(1022.5,575.5) rotate(90)"/>
<use href="#ch" transform="translate(927,500) rotate(90)"/>
<use href="#rh" transform="translate(946.5,498.5) rotate(90)"/><use href="#rh" transform="translate(966.5,498.5) rotate(90)"/>
<use href="#ch" transform="translate(1045.5,500) rotate(90)"/><use href="#ch" transform="translate(1064.5,500) rotate(90)"/>

<!-- IC5 -->
<g class="g"><rect x="893" y="540" width="19" height="8" rx="3.5"/><rect x="893" y="553.5" width="19" height="8" rx="3.5"/><rect x="893" y="566.5" width="19" height="8" rx="3.5"/><rect x="893" y="580" width="19" height="8" rx="3.5"/>
<rect x="969" y="540" width="24" height="8" rx="3.5"/><rect x="969" y="553.5" width="24" height="8" rx="3.5"/><rect x="969" y="566.5" width="24" height="8" rx="3.5"/><rect x="969" y="580" width="24" height="8" rx="3.5"/></g>
<g fill="#c0c0c0"><rect x="906" y="540.5" width="6" height="7"/><rect x="906" y="554" width="6" height="7"/><rect x="906" y="567" width="6" height="7"/><rect x="906" y="580.5" width="6" height="7"/>
<rect x="969" y="540.5" width="6" height="7"/><rect x="969" y="554" width="6" height="7"/><rect x="969" y="567" width="6" height="7"/><rect x="969" y="580.5" width="6" height="7"/></g>
<rect x="912" y="536" width="57" height="57" fill="#383838"/><rect x="912" y="535" width="57" height="2" fill="#fff"/>
<text class="s" font-size="9" transform="translate(944,565) rotate(-90)" y="0">SOP8W</text>
<circle cx="962" cy="587" r="2" fill="#8a8a8a"/>
<circle cx="979" cy="599" r="3.2" fill="#fff"/>
<!-- IC4 -->
<g class="g"><rect x="1044" y="540" width="19" height="8" rx="3.5"/><rect x="1044" y="553.5" width="19" height="8" rx="3.5"/><rect x="1044" y="566.5" width="19" height="8" rx="3.5"/><rect x="1044" y="580" width="19" height="8" rx="3.5"/>
<rect x="1120" y="540" width="24" height="8" rx="3.5"/><rect x="1120" y="553.5" width="24" height="8" rx="3.5"/><rect x="1120" y="566.5" width="24" height="8" rx="3.5"/><rect x="1120" y="580" width="24" height="8" rx="3.5"/></g>
<g fill="#c0c0c0"><rect x="1057" y="540.5" width="6" height="7"/><rect x="1057" y="554" width="6" height="7"/><rect x="1057" y="567" width="6" height="7"/><rect x="1057" y="580.5" width="6" height="7"/>
<rect x="1120" y="540.5" width="6" height="7"/><rect x="1120" y="554" width="6" height="7"/><rect x="1120" y="567" width="6" height="7"/><rect x="1120" y="580.5" width="6" height="7"/></g>
<rect x="1063" y="536" width="57" height="57" fill="#383838"/><rect x="1063" y="535" width="57" height="2" fill="#fff"/>
<text class="s" font-size="9" transform="translate(1095,565) rotate(-90)" y="0">SOP8W</text>
<circle cx="1113" cy="587" r="2" fill="#8a8a8a"/>
<circle cx="1130" cy="599" r="3.2" fill="#fff"/>

<!-- ===== IC1 LQFP100 ===== -->
<line x1="918.5" y1="289.5" x2="1055" y2="289.5" stroke="#c4af3f" stroke-width="17" stroke-dasharray="3 2.45"/>
<line x1="919" y1="292" x2="1055" y2="292" stroke="#e2e2e2" stroke-width="11" stroke-dasharray="2 3.45"/>
<line x1="918.5" y1="452.5" x2="1055" y2="452.5" stroke="#c4af3f" stroke-width="17" stroke-dasharray="3 2.45"/>
<line x1="919" y1="450" x2="1055" y2="450" stroke="#e2e2e2" stroke-width="11" stroke-dasharray="2 3.45"/>
<line x1="903" y1="304.5" x2="903" y2="440" stroke="#c4af3f" stroke-width="16" stroke-dasharray="3 2.45"/>
<line x1="905.5" y1="305" x2="905.5" y2="440" stroke="#e2e2e2" stroke-width="11" stroke-dasharray="2 3.45"/>
<line x1="1066.5" y1="304.5" x2="1066.5" y2="440" stroke="#c4af3f" stroke-width="17" stroke-dasharray="3 2.45"/>
<line x1="1063.5" y1="305" x2="1063.5" y2="440" stroke="#e2e2e2" stroke-width="11" stroke-dasharray="2 3.45"/>
<polygon points="917,298 1052,298 1058,304 1058,438 1052,444 917,444 911,438 911,304" fill="#3c3c3c" stroke="#2c2c2c" stroke-width="1.2"/>
<circle cx="926" cy="311" r="3.5" fill="#fff"/>
<circle cx="903" cy="297" r="4.5" fill="#fff"/>

<!-- ===== TF1 ===== -->
<rect x="997" y="40" width="10" height="22" class="g"/><rect x="1007" y="143" width="9" height="16" class="g"/>
<rect x="1173" y="39" width="8" height="24" class="g"/><rect x="1173" y="143" width="8" height="16" class="g"/>
<polygon points="1006,0 1035,0 1071,9 1173,9 1173,158.5 1016,158.5 1016,132 1006,132" fill="#d8d8d8" stroke="#bcbcbc" stroke-width="0.8"/>
<line x1="1059" y1="163.5" x2="1162" y2="163.5" stroke="#c4af3f" stroke-width="9" stroke-dasharray="8 3.6"/>
<path class="sk" d="M1001,2 V172 H1175 V10"/>
<use href="#ch" transform="translate(1098.5,194) rotate(90)"/>
<use href="#rh" x="1209" y="72.5"/><use href="#rh" x="1209" y="92.5"/><use href="#rh" x="1209" y="112.5"/><use href="#rh" x="1209" y="133.5"/>

<use href="#rh" x="1134" y="238.5"/><use href="#rh" x="1134" y="257.5"/>
<use href="#ch" x="1134" y="276.5"/><use href="#ch" x="1134" y="294.5"/>
<use href="#rh" x="1134" y="312"/><use href="#rh" x="1134" y="330.5"/><use href="#rh" x="1134" y="349"/><use href="#rh" x="1134" y="367.5"/><use href="#rh" x="1134" y="386.5"/>

<use href="#rh" x="1284" y="118.5"/><use href="#rh" x="1283" y="136.5"/>
<use href="#ch" x="1283.5" y="154.5"/>
<use href="#rh" x="1283.5" y="172.5"/><use href="#rh" x="1283.5" y="190.5"/><use href="#rh" x="1283.5" y="208.5"/><use href="#rh" x="1283.5" y="226.5"/>
<use href="#ch" x="1283.5" y="245"/>
<use href="#rh" x="1283.5" y="263"/>
<use href="#led" x="1285" y="281.5"/><use href="#led" x="1285" y="301"/>
<use href="#rh" x="1285" y="320.5"/>

<use href="#ch" transform="translate(1329,101) rotate(90)"/><use href="#ch" transform="translate(1347.5,101) rotate(90)"/><use href="#ch" transform="translate(1364.5,101) rotate(90)"/>
<rect x="1376" y="83" width="40" height="37" class="sk"/>
<rect x="1378" y="85" width="36" height="33" class="g"/>
<rect x="1380" y="88" width="34" height="25" rx="2" fill="#cdb994" stroke="#b39a66" stroke-width="1"/>
<use href="#ch" transform="translate(1427,101) rotate(90)"/><use href="#ch" transform="translate(1444.5,101) rotate(90)"/><use href="#ch" transform="translate(1461.5,101) rotate(90)"/>
<use href="#rh" transform="translate(1479,101) rotate(90)"/><use href="#rh" transform="translate(1497.5,101) rotate(90)"/>
<use href="#led" transform="translate(1480,142) rotate(90)"/><use href="#led" transform="translate(1498,142) rotate(90)"/>
<use href="#rh" x="1488.5" y="172"/>

<!-- IC2 LQFP48 -->
<line x1="1355.5" y1="159.5" x2="1418.5" y2="159.5" stroke="#c4af3f" stroke-width="17" stroke-dasharray="3 2.45"/>
<line x1="1356" y1="162" x2="1418.5" y2="162" stroke="#e2e2e2" stroke-width="10" stroke-dasharray="2 3.45"/>
<line x1="1355.5" y1="247.5" x2="1418.5" y2="247.5" stroke="#c4af3f" stroke-width="17" stroke-dasharray="3 2.45"/>
<line x1="1356" y1="245" x2="1418.5" y2="245" stroke="#e2e2e2" stroke-width="10" stroke-dasharray="2 3.45"/>
<line x1="1342" y1="174" x2="1342" y2="237" stroke="#c4af3f" stroke-width="18" stroke-dasharray="3 2.45"/>
<line x1="1345" y1="174.5" x2="1345" y2="237" stroke="#e2e2e2" stroke-width="10" stroke-dasharray="2 3.45"/>
<line x1="1432" y1="174" x2="1432" y2="237" stroke="#c4af3f" stroke-width="18" stroke-dasharray="3 2.45"/>
<line x1="1429" y1="174.5" x2="1429" y2="237" stroke="#e2e2e2" stroke-width="10" stroke-dasharray="2 3.45"/>
<polygon points="1355,168 1419,168 1423,172 1423,235 1419,239 1355,239 1351,235 1351,172" fill="#3c3c3c" stroke="#2c2c2c" stroke-width="1"/>
<circle cx="1415" cy="177" r="2.5" fill="#999"/>
<text class="s" font-size="8" transform="translate(1387,204) rotate(180)">LQFP48 7x7</text>
<circle cx="1423" cy="157" r="4" fill="#fff"/>

<!-- P2 header -->
<rect x="1476" y="181" width="35" height="109" class="sk" stroke-width="1.4"/>
<path d="M1481,182 H1505 L1509,186 V207 L1505,211 L1509,215 V234 L1505,238 L1509,242 V261 L1505,265 L1509,269 V285 L1505,289 H1481 L1477,285 V269 L1481,265 L1477,261 V242 L1481,238 L1477,234 V215 L1481,211 L1477,207 V186 Z" fill="#3a3a3a"/>
<g fill="#b9b9b9"><rect x="1492" y="189" width="22" height="9"/><rect x="1492" y="216" width="22" height="9"/><rect x="1492" y="244" width="22" height="9"/><rect x="1492" y="271" width="22" height="9"/></g>
<g fill="#d4d4d4"><rect x="1492" y="189" width="22" height="3"/><rect x="1492" y="216" width="22" height="3"/><rect x="1492" y="244" width="22" height="3"/><rect x="1492" y="271" width="22" height="3"/></g>

<use href="#rh" transform="translate(1324.5,315) rotate(90)"/><use href="#rh" transform="translate(1342.5,315) rotate(90)"/><use href="#rh" transform="translate(1359.5,315) rotate(90)"/><use href="#rh" transform="translate(1378,315) rotate(90)"/>
<use href="#sot" transform="translate(1407.5,315) rotate(90)"/>
<use href="#rh" transform="translate(1434,315) rotate(90)"/>
<use href="#rh" x="1460" y="320"/>
<use href="#ch" transform="translate(1495.5,315) rotate(90)"/>
<use href="#ch" transform="translate(1346.5,358) rotate(90)"/><use href="#ch" transform="translate(1363,358) rotate(90)"/>
<g class="g"><rect x="1375" y="344" width="14" height="8"/><rect x="1375" y="354" width="14" height="8"/><rect x="1375" y="363" width="14" height="8"/><rect x="1406" y="344" width="12" height="8"/><rect x="1406" y="363" width="12" height="8"/></g>
<rect x="1389" y="342" width="17" height="32" fill="#383838"/>
<text class="s" font-size="5" transform="translate(1398,358) rotate(90)" y="2">SOT23-5</text>
<circle cx="1386" cy="339" r="2" fill="#fff"/>
<use href="#ch" transform="translate(1426.5,356) rotate(90)"/><use href="#ch" transform="translate(1443.5,356) rotate(90)"/><use href="#ch" transform="translate(1459.5,356) rotate(90)"/>
<use href="#rh" transform="translate(1477,356) rotate(90)"/><use href="#rh" transform="translate(1495.5,356) rotate(90)"/>

<!-- U2 / FU -->
<line x1="1359" y1="428.5" x2="1385" y2="428.5" stroke="#c4af3f" stroke-width="17" stroke-dasharray="3 2.6"/>
<line x1="1359" y1="431" x2="1385" y2="431" stroke="#c8c8c8" stroke-width="8" stroke-dasharray="3 2.6"/>
<line x1="1359" y1="476.5" x2="1385" y2="476.5" stroke="#c4af3f" stroke-width="17" stroke-dasharray="3 2.6"/>
<line x1="1359" y1="474" x2="1385" y2="474" stroke="#c8c8c8" stroke-width="8" stroke-dasharray="3 2.6"/>
<rect x="1356" y="437" width="31" height="31" fill="#383838"/>
<circle cx="1382" cy="442" r="1.8" fill="#999"/>
<text class="s" font-size="5.5" transform="translate(1371,453) rotate(180)" y="2">MSOP10</text>
<circle cx="1390" cy="427" r="3.5" fill="#fff"/>
<use href="#fu" x="1426.5" y="420"/><use href="#fu" x="1426.5" y="481.5"/>

<!-- USB-C -->
<line x1="1479.5" y1="412" x2="1479.5" y2="488" stroke="#c4af3f" stroke-width="19" stroke-dasharray="3 1.8"/>
<circle cx="1487" cy="404" r="6" fill="#c4af3f"/><circle cx="1487" cy="404" r="3.5" fill="#eee"/>
<circle cx="1533" cy="404" r="6" fill="#c4af3f"/>
<circle cx="1487" cy="494" r="6" fill="#c4af3f"/><circle cx="1487" cy="494" r="3.5" fill="#eee"/>
<circle cx="1533" cy="494" r="6" fill="#c4af3f"/>
<rect x="1489" y="404" width="79" height="94" rx="9" fill="url(#usb)"/>
<rect x="1491" y="418" width="16" height="66" rx="3" fill="#2e2e2e"/>
<rect x="1497" y="428" width="11" height="46" rx="5" fill="#d2d2d2"/>
<text font-family="Liberation Sans,Arial,sans-serif" font-size="4" fill="#333" text-anchor="middle" transform="translate(1556,441) rotate(-90)">LCEDA</text>
<text font-family="Liberation Sans,Arial,sans-serif" font-size="4" fill="#333" text-anchor="middle" transform="translate(1560,441) rotate(-90)">EasyEDA</text>

<use href="#rh" transform="translate(1360.5,526.5) rotate(90)"/><use href="#rh" transform="translate(1379.5,526.5) rotate(90)"/>
<use href="#sot" transform="translate(1409,526.5) rotate(90)"/>
<use href="#rh" transform="translate(1435.5,526.5) rotate(90)"/>
<rect x="1448" y="508" width="64" height="37" class="sk" stroke-width="2"/>
<rect x="1451" y="511" width="58" height="31" class="g"/>
<rect x="1466" y="512" width="11" height="29" fill="#333"/>
<rect x="1477" y="512" width="30" height="29" fill="#f3efb8"/>
<text x="1484" y="538" font-family="Liberation Sans,Arial,sans-serif" font-size="28" fill="#c2c2b8" textLength="16" lengthAdjust="spacingAndGlyphs">B</text>

<!-- Logo -->
<text x="1203" y="466" font-family="Liberation Sans,Arial,sans-serif" font-size="61" fill="#fff" textLength="97" lengthAdjust="spacingAndGlyphs">YHF</text>
<text x="1192" y="487" font-family="Liberation Sans,Arial,sans-serif" font-weight="bold" font-style="italic" font-size="14" fill="#fff" textLength="117" lengthAdjust="spacingAndGlyphs">MU YU QIU FENG</text>
<text x="1207" y="507.5" font-family="Liberation Sans,Arial,sans-serif" font-weight="bold" font-size="18" fill="#fff" textLength="92" lengthAdjust="spacingAndGlyphs">2022/05/22</text>

<!-- ===== LABELS ===== -->
<g class="t">
<text x="259" y="134">R14</text><text x="303" y="133">R13</text><text x="139" y="158">C13</text><text x="216" y="159">TVS1</text>
<text x="282" y="165">P1</text><text x="88" y="221">C11</text><text x="168" y="220">D1</text><text x="83" y="243">LED1</text>
<text x="92" y="265">R1</text><text x="168" y="259">U1</text><text x="331" y="263">L1</text><text x="91" y="287">R2</text>
<text x="85" y="311">LED2</text><text x="178" y="325">R6</text><text x="93" y="334">R7</text>
<text x="265" y="351">C14</text><text x="295" y="351">C12</text><text x="322" y="351">C8</text>
<text x="434" y="129">C34</text><text x="504" y="131">R61</text><text x="405" y="189">C37</text><text x="515" y="192">L2</text>
<text x="402" y="215">U4</text><text x="399" y="246">R66</text><text x="399" y="266">R67</text><text x="399" y="285">C43</text>
<text x="399" y="301">C46</text><text x="560" y="287">R70</text><text x="560" y="302">C49</text>
<text x="406" y="327">R84</text><text x="553" y="325">R85</text><text x="587" y="325">R86</text><text x="406" y="356">R87</text>
<text x="450" y="383">C55</text><text x="478" y="383">U6</text><text x="515" y="381">Q4</text>
<text x="163" y="383">Q1</text><text x="194" y="386">R88</text><text x="258" y="383">VF4</text><text x="295" y="383">R46</text>
<text x="91" y="404">R50</text><text x="91" y="426">R44</text><text x="221" y="436">Q2</text><text x="316" y="438">R54</text>
<text x="164" y="454">R39</text><text x="250" y="458">R49</text><text x="283" y="478">Q3</text>
<text x="92" y="485">R48</text><text x="93" y="507">R47</text><text x="194" y="509">VF3</text><text x="227" y="514">R55</text>
<text x="316" y="531">R51</text><text x="94" y="528">D2</text><text x="92" y="552">R89</text>
<text x="162" y="586">R53</text><text x="252" y="587">R43</text><text x="293" y="587">R42</text>
<text x="139" y="602">R38</text><text x="197" y="602">R52</text>
<text x="406" y="417">C52</text><text x="471" y="399">R83</text><text x="470" y="488">C54</text>
<text x="544" y="435">IC7</text><text x="472" y="511">L6</text><text x="537" y="511">L5</text><text x="467" y="563">SP2</text>
<text x="566" y="399">C51</text><text x="604" y="399">R82</text><text x="604" y="487">C53</text>
<text x="672" y="435">IC6</text><text x="601" y="511">L4</text><text x="665" y="511">L3</text><text x="595" y="565">SP1</text>
<text x="549" y="36">BAT1</text><text x="739" y="189">TP1</text><text x="811" y="101">IC3</text><text x="755" y="129">C27</text>
<text x="893" y="64">C59</text><text x="852" y="85">IC8</text>
<text x="938" y="165">R72</text><text x="969" y="165">R75</text>
<text x="937" y="217">R40</text><text x="980" y="217">R57</text><text x="960" y="266">R41</text>
<text x="817" y="269">C35</text><text x="817" y="281">C30</text><text x="772" y="283">D3</text>
<text x="815" y="338">C31</text><text x="859" y="336">X3</text>
<text x="712" y="351">R18</text><text x="712" y="370">R19</text><text x="842" y="371">C26</text><text x="712" y="391">R20</text>
<text x="873" y="415">X2</text><text x="738" y="410">R21</text><text x="738" y="430">C29</text>
<text x="863" y="434">C23</text><text x="742" y="459">U3</text><text x="863" y="453">C32</text><text x="863" y="468">C33</text>
<text x="754" y="530">C17</text><text x="860" y="527">C16</text><text x="758" y="561">RST</text>
<text x="789" y="607">R45</text><text x="836" y="606">C21</text><text x="872" y="606">C48</text><text x="940" y="609">IC5</text>
<text x="903" y="504">C25</text><text x="948" y="528">R34</text><text x="989" y="504">R35</text>
<text x="1023" y="503">C19</text><text x="1023" y="606">C47</text><text x="1062" y="293">IC1</text>
<text x="987" y="19">TF1</text>
<text x="1191" y="22" font-style="italic">105</text>
<text x="1241" y="78">R76</text><text x="1241" y="98">R81</text><text x="1241" y="118">R77</text><text x="1241" y="138">R80</text>
<text x="1283" y="107">R27</text><text x="1316" y="141">R28</text><text x="1311" y="159">C2</text>
<text x="1254" y="179">R5</text><text x="1254" y="197">R3</text><text x="1254" y="215">R4</text><text x="1250" y="233">R12</text>
<text x="1254" y="251">C7</text><text x="1250" y="269">R16</text><text x="1229" y="289">LED3</text><text x="1229" y="305">LED4</text>
<text x="1250" y="327">R17</text>
<text x="1168" y="243">R26</text><text x="1168" y="261">R25</text><text x="1168" y="280">C18</text><text x="1168" y="299">C24</text>
<text x="1168" y="317">R60</text><text x="1168" y="335">R59</text><text x="1168" y="354">R58</text><text x="1168" y="372">R37</text><text x="1168" y="391">R36</text>
<text x="1100" y="225">C50</text><text x="1086" y="503">C28</text><text x="1091" y="607">IC4</text>
<text x="1399" y="79">X1</text><text x="1443" y="162">IC2</text><text x="1524" y="178">R11</text><text x="1463" y="194">P2</text>
<text x="1509" y="202" style="text-anchor:start">3.3V</text><text x="1509" y="230" style="text-anchor:start">CLK</text>
<text x="1509" y="257" style="text-anchor:start">DIO</text><text x="1509" y="284" style="text-anchor:start">GND</text>
<text x="1400" y="292">VF2</text><text x="1435" y="286">R31</text><text x="1523" y="311">R29</text><text x="1524" y="326">R30</text>
<text x="1325" y="375">C36</text><text x="1364" y="394">C38</text><text x="1397" y="390">U5</text><text x="1517" y="363">R73</text>
<text x="1428" y="440">FU2</text><text x="1397" y="459">U2</text><text x="1428" y="471">FU1</text>
<text x="1355" y="507">R10</text><text x="1380" y="507">R9</text><text x="1405" y="507">VF1</text><text x="1434" y="507">R8</text><text x="1464" y="507">C15</text>
</g>
<g class="t">
<text transform="translate(791,187) rotate(-90)" y="5">C58</text>
<text transform="translate(807,187) rotate(-90)" y="5">C57</text>
<text transform="translate(821,187) rotate(-90)" y="5">R90</text>
<text transform="translate(836,187) rotate(-90)" y="5">C56</text>
<text transform="translate(791,235) rotate(-90)" y="5">R69</text>
<text transform="translate(807,235) rotate(-90)" y="5">R68</text>
<text transform="translate(822,235) rotate(-90)" y="5">R71</text>
<text transform="translate(837,235) rotate(-90)" y="5">C20</text>
<text transform="translate(578,290) rotate(-90)" y="5">R78</text>
<text transform="translate(592,290) rotate(-90)" y="5">R79</text>
<text transform="translate(858,396) rotate(-90)" y="5">C22</text>
<text transform="translate(802,484) rotate(-90)" y="5">R56</text>
<text transform="translate(1328,71) rotate(-90)" y="5">C1</text>
<text transform="translate(1347,71) rotate(-90)" y="5">C4</text>
<text transform="translate(1364,71) rotate(-90)" y="5">C9</text>
<text transform="translate(1426,67) rotate(-90)" y="5">C10</text>
<text transform="translate(1444,71) rotate(-90)" y="5">C3</text>
<text transform="translate(1461,71) rotate(-90)" y="5">C6</text>
<text transform="translate(1477,67) rotate(-90)" y="5">R33</text>
<text transform="translate(1496,67) rotate(-90)" y="5">R32</text>
<text transform="translate(1461,142) rotate(-90)" y="5">LED6</text>
<text transform="translate(1514,142) rotate(90)" y="5">LED5</text>
<text transform="translate(1341,282) rotate(-90)" y="5">R22</text>
<text transform="translate(1360,282) rotate(-90)" y="5">R23</text>
<text transform="translate(1378,282) rotate(-90)" y="5">R24</text>
<text transform="translate(1324,344) rotate(-90)" y="5">R15</text>
<text transform="translate(1424,388) rotate(-90)" y="5">C42</text>
<text transform="translate(1443,388) rotate(-90)" y="5">C44</text>
<text transform="translate(1460,388) rotate(-90)" y="5">C45</text>
<text transform="translate(1477,388) rotate(-90)" y="5">R74</text>
<text transform="translate(1543,311) rotate(-90)" y="5">C5</text>
</g>
</svg>
</body></html>
